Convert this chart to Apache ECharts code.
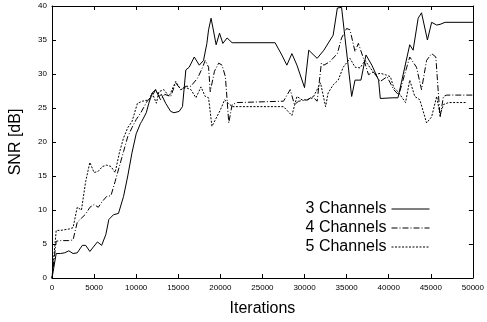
<!DOCTYPE html>
<html>
<head>
<meta charset="utf-8">
<script src="https://cdn.jsdelivr.net/npm/echarts@6/dist/echarts.min.js"></script>
<style>
html, body { margin: 0; padding: 0; background: #fff; }
#chart { width: 487px; height: 322px; }
</style>
</head>
<body>
<div id="chart"></div>
<script>
// 迭代次数 / SNR 数据
var iter3 = [0,500,1000,1500,2000,2500,3000,3600,4000,4500,5000,5400,5900,6400,6750,7300,7900,8500,9000,9500,10000,10500,10650,11200,11500,11900,12300,12700,13000,13500,14100,14500,15100,15500,15900,16300,16900,17500,18000,18400,18600,18900,19500,19900,20300,20800,21400,26500,27300,27900,28500,29100,30000,30500,31500,32300,33400,33900,34400,34800,35600,36000,36700,37300,38000,38800,39000,40500,41100,41500,42500,42900,43500,43900,44600,45100,45700,46100,46700,50000];
var snr3 = [0,3.6,3.6,3.7,4.0,3.6,3.7,4.8,4.8,3.9,4.7,5.3,4.8,6.4,8.6,9.3,9.5,12,15,18.4,21.2,22.7,23,24.3,25.7,27.2,27.7,26.7,27,25.7,24.5,24.3,24.5,25.2,30.6,31,32.5,31.3,32,34.5,36.5,38.2,34.3,36,34.5,35.3,34.6,34.6,32.8,31.3,33,31.3,28,33.5,32.3,33.5,35.7,39.7,39.8,35.4,26.7,29.1,29.1,32.8,31.3,29.1,26.4,26.5,26.5,28.7,34.3,33.5,38.2,39,35,37.6,37.2,37.3,37.6,37.6];

var iter4 = [0,500,1000,2000,2500,3000,3500,4000,4500,5000,5500,6000,6500,7000,7500,8000,8500,9000,9500,10000,10550,11300,11900,12300,12900,13400,14100,14700,15300,15900,16500,17300,17900,18200,18600,18800,19300,19800,20200,20600,21000,21400,22000,27500,28300,28800,29300,30400,30900,31500,32000,32300,33000,33900,34400,35000,35400,36000,36400,37000,37600,38200,39000,39800,40600,41200,41700,42500,43300,43900,44500,45100,45600,46100,46500,46900,50000];
var snr4 = [0,5.4,5.5,5.5,5.6,8.2,8.8,9.4,10.4,10.8,10.4,11.3,12,12.1,14.2,16.4,18.6,20.8,22.1,23.3,24.3,26,26.7,27.7,26.2,27,26.7,28.7,27.7,28.2,28.2,29.4,31,32,31,27.4,30.4,31.6,31.3,29.6,22.8,25.5,25.8,26,27.7,25.5,26,26.2,26.7,26,31.6,31.3,31.8,33,35.3,36.7,36.5,33.3,34.5,32.3,29.9,30.3,28.9,29.6,27.7,26.9,29.1,32.5,31,27.7,32,33,32.5,23.6,26.7,26.9,26.9];

var iter5 = [0,500,1000,2000,2500,3000,3500,4000,4500,5000,5500,6000,6500,7000,7500,8000,8500,9000,9500,10150,10750,11500,11900,12400,12700,13300,13900,14700,15300,15900,16500,17100,17700,18200,18600,19000,20000,20500,21400,27500,28500,29100,29700,30200,31000,31900,32500,32800,33400,34000,34600,35400,36000,36600,37200,37800,38400,39000,39600,40200,40600,41100,42000,42500,43100,43700,44500,45100,45700,46100,46500,47100,49300];
var snr5 = [0,7.0,7.0,7.2,7.4,10.4,10,14.2,17,15.5,15.7,16.4,16.6,16.4,15.5,18.4,20.6,22.1,23,25.7,26,26.2,27.2,25.7,27.4,27.7,26.7,28.9,27.7,28,27.7,26.5,28.1,26.7,26.5,22.3,24.7,26.2,25.2,25.2,23.9,26.7,26.2,26.2,26.5,28.7,25.2,27.2,28.4,29.1,31,32.3,31,30.9,32,30.9,29.9,30.1,29.9,29.6,28,27.4,25.8,29.1,26.7,26.2,22.8,23.7,26.7,24,25.5,25.8,25.8];

var seriesNames = ["3 Channels", "4 Channels", "5 Channels"];

function zip(xs, ys) {
  return xs.map(function (x, i) { return [x, ys[i]]; });
}

(function(){
  var myChart = echarts.init(document.getElementById('chart'));
  var font = "'Liberation Sans', Arial, Helvetica, sans-serif";
  var axisCommon = {
    axisLine: { show: true, onZero: false, lineStyle: { color: "#000", width: 1 } },
    axisTick: { show: true, inside: true, length: 4, lineStyle: { color: "#000" } },
    splitLine: { show: false },
  };
  var option = {
    animation: false,
    backgroundColor: "#fff",
    textStyle: { fontFamily: font },
    grid: { left: 51, right: 14, top: 6, bottom: 43 },
    legend: {
      data: seriesNames,
      orient: "vertical",
      align: "right",
      right: 52,
      top: 196,
      itemWidth: 38,
      itemHeight: 13,
      itemGap: 3,
      itemStyle: { opacity: 0 },
      lineStyle: { width: 1 },
      textStyle: { fontSize: 16, color: "#000", fontFamily: font },
    },
    xAxis: [
      Object.assign({
        type: "value", min: 0, max: 50000, interval: 5000,
        name: "Iterations", nameLocation: "middle", nameGap: 23,
        nameTextStyle: { fontSize: 16, color: "#000", fontFamily: font },
        axisLabel: { fontSize: 8, color: "#000", margin: 6, fontFamily: font,
          formatter: function (v) { return String(v); } },
      }, axisCommon),
      Object.assign({
        type: "value", min: 0, max: 50000, interval: 5000, position: "top",
        axisLabel: { show: false },
      }, axisCommon),
    ],
    yAxis: [
      Object.assign({
        type: "value", min: 0, max: 40, interval: 5,
        name: "SNR [dB]", nameLocation: "middle", nameGap: 28,
        nameTextStyle: { fontSize: 16, color: "#000", fontFamily: font },
        axisLabel: { fontSize: 8, color: "#000", margin: 5, fontFamily: font },
      }, axisCommon),
      Object.assign({
        type: "value", min: 0, max: 40, interval: 5, position: "right",
        axisLabel: { show: false },
      }, axisCommon),
    ],
    series: [
      {
        name: seriesNames[0], type: "line", symbol: "none",
        lineStyle: { color: "#000", width: 1, type: "solid" },
        itemStyle: { color: "#000" },
        data: zip(iter3, snr3),
      },
      {
        name: seriesNames[1], type: "line", symbol: "none",
        lineStyle: { color: "#000", width: 1, type: [6, 2, 1, 2] },
        itemStyle: { color: "#000" },
        data: zip(iter4, snr4),
      },
      {
        name: seriesNames[2], type: "line", symbol: "none",
        lineStyle: { color: "#000", width: 1, type: [2, 1.5] },
        itemStyle: { color: "#000" },
        data: zip(iter5, snr5),
      },
    ],
  };
  myChart.setOption(option);
  window.addEventListener("resize", function() {
    myChart.resize();
  });
})();
</script>
</body>
</html>
